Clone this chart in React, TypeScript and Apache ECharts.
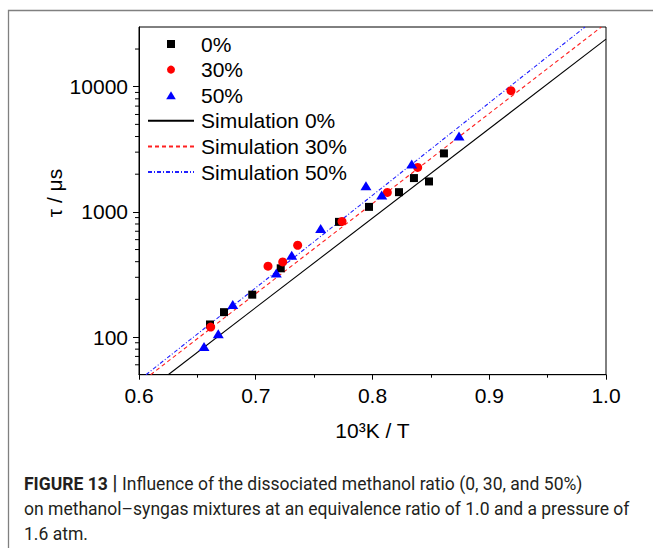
import { useEffect, useRef } from 'react';
import * as echarts from 'echarts';

// Measured ignition delay times, tau (µs) versus 1000/T (1/K)
const DATA_0: [number, number][] = [
  [0.6608, 126], [0.6728, 158], [0.697, 218], [0.7214, 354], [0.7713, 832],
  [0.797, 1096], [0.8227, 1437], [0.8355, 1862], [0.8484, 1750], [0.8612, 2932],
];
const DATA_30: [number, number][] = [
  [0.6614, 120], [0.7105, 368], [0.7231, 398], [0.7359, 541], [0.7739, 838],
  [0.8127, 1429], [0.8387, 2265], [0.9186, 9290],
];
const DATA_50: [number, number][] = [
  [0.6557, 84], [0.6679, 106], [0.6803, 182], [0.7176, 325], [0.7308, 451],
  [0.7556, 737], [0.7944, 1614], [0.8079, 1361], [0.8336, 2409], [0.8741, 4035],
];

// Simulated (Arrhenius-type) lines, endpoints where they meet the frame
const SIM_0: [number, number][] = [[0.625, 50], [1.0, 24000]];
const SIM_30: [number, number][] = [[0.61, 50], [0.996, 30000]];
const SIM_50: [number, number][] = [[0.606, 50], [0.982, 30000]];

const SERIES_NAMES = ['0%', '30%', '50%', 'Simulation 0%', 'Simulation 30%', 'Simulation 50%'];

// Minor tick values of the logarithmic tau axis
const Y_MINOR_TICKS = [
  60, 70, 80, 90,
  200, 300, 400, 500, 600, 700, 800, 900,
  2000, 3000, 4000, 5000, 6000, 7000, 8000, 9000,
  20000,
];

const X_NAME = '10³K / T';
const Y_NAME = 'τ / μs';

const CAPTION_1_BOLD = 'FIGURE 13';
const CAPTION_1 = 'Influence of the dissociated methanol ratio (0, 30, and 50%)';
const CAPTION_2 = 'on methanol–syngas mixtures at an equivalence ratio of 1.0 and a pressure of';
const CAPTION_3 = '1.6 atm.';

const FONT = 'Liberation Sans';
const CAPTION_FONT = 'Roboto';
const CAPTION_SIZE = 18.5;

// legend icons that keep their own proportions inside the wide legend slot
const ICON_SQUARE = 'path://M0,0L10,0L10,10L0,10Z';
const ICON_TRIANGLE = 'path://M6,0L12,10L0,10Z';
const HIDDEN_SYMBOL = { color: 'rgba(0,0,0,0)', borderColor: 'rgba(0,0,0,0)', borderWidth: 0 };

export default function App() {
  const ref = useRef<HTMLDivElement>(null);

  useEffect(() => {
    if (!ref.current) return;
    const chart = echarts.init(ref.current, null, { renderer: 'svg' });

    // horizontal squeeze of the caption so the second line spans its column
    let capScale = 0.87;
    try {
      const ctx = document.createElement('canvas').getContext('2d');
      if (ctx) {
        ctx.font = `${CAPTION_SIZE}px ${CAPTION_FONT}`;
        const w = ctx.measureText(CAPTION_2).width;
        if (w > 0) capScale = 606 / w;
      }
    } catch (e) {
      /* keep default */
    }

    chart.setOption({
      animation: false,
      backgroundColor: '#ffffff',
      textStyle: { fontFamily: FONT },
      grid: {
        left: 139,
        top: 27,
        width: 467,
        height: 347.7,
        show: true,
        borderColor: '#000',
        borderWidth: 1,
        backgroundColor: 'transparent',
        containLabel: false,
      },
      legend: {
        orient: 'vertical',
        left: 147,
        top: 33.5,
        padding: 0,
        itemWidth: 46,
        itemHeight: 8,
        itemGap: 4.6,
        selectedMode: false,
        symbolKeepAspect: true,
        data: [
          { name: SERIES_NAMES[0], icon: ICON_SQUARE },
          { name: SERIES_NAMES[1], icon: 'circle' },
          { name: SERIES_NAMES[2], icon: ICON_TRIANGLE },
          { name: SERIES_NAMES[3], itemStyle: HIDDEN_SYMBOL },
          { name: SERIES_NAMES[4], itemStyle: HIDDEN_SYMBOL },
          { name: SERIES_NAMES[5], itemStyle: HIDDEN_SYMBOL },
        ],
        textStyle: {
          fontFamily: FONT,
          fontSize: 21,
          lineHeight: 21,
          color: '#000',
          padding: [0, 0, 0, 2],
        },
      },
      xAxis: {
        type: 'value',
        min: 0.6,
        max: 1.0,
        interval: 0.1,
        name: X_NAME,
        nameLocation: 'middle',
        nameGap: 45,
        nameTextStyle: { fontFamily: FONT, fontSize: 21, color: '#000' },
        axisLine: { show: true, lineStyle: { color: '#000', width: 1 } },
        axisTick: { show: true, length: 5, lineStyle: { color: '#000', width: 1 } },
        minorTick: { show: true, splitNumber: 2, length: 3, lineStyle: { color: '#000', width: 1 } },
        axisLabel: {
          fontFamily: FONT,
          fontSize: 21,
          color: '#000',
          margin: 10,
          formatter: (v: number) => v.toFixed(1),
        },
        splitLine: { show: false },
      },
      yAxis: {
        type: 'log',
        logBase: 10,
        min: 50,
        max: 30000,
        axisLine: { show: true, lineStyle: { color: '#000', width: 1 } },
        axisTick: { show: true, length: 6, lineStyle: { color: '#000', width: 1 } },
        axisLabel: {
          fontFamily: FONT,
          fontSize: 21,
          color: '#000',
          margin: 11,
          showMinLabel: false,
          showMaxLabel: false,
          formatter: (v: number) => String(Math.round(v)),
        },
        splitLine: { show: false },
      },
      series: [
        {
          type: 'scatter',
          name: SERIES_NAMES[0],
          data: DATA_0,
          symbol: 'rect',
          symbolSize: 8,
          itemStyle: { color: '#000000', opacity: 1 },
          z: 4,
        },
        {
          type: 'scatter',
          name: SERIES_NAMES[1],
          data: DATA_30,
          symbol: 'circle',
          symbolSize: 9,
          itemStyle: { color: '#ff0000', opacity: 1 },
          z: 5,
        },
        {
          type: 'scatter',
          name: SERIES_NAMES[2],
          data: DATA_50,
          symbol: 'triangle',
          symbolSize: [11, 9],
          itemStyle: { color: '#0000ff', opacity: 1 },
          z: 6,
        },
        {
          type: 'line',
          name: SERIES_NAMES[3],
          data: SIM_0,
          symbol: 'none',
          color: '#000000',
          lineStyle: { color: '#000000', width: 1.1, type: 'solid' },
          clip: true,
          z: 3,
        },
        {
          type: 'line',
          name: SERIES_NAMES[4],
          data: SIM_30,
          symbol: 'none',
          color: '#ff0000',
          lineStyle: { color: '#ff2020', width: 1.1, type: [4, 3] },
          clip: true,
          z: 3,
        },
        {
          type: 'line',
          name: SERIES_NAMES[5],
          data: SIM_50,
          symbol: 'none',
          color: '#0000ff',
          lineStyle: { color: '#2020ff', width: 1.1, type: [4, 2, 1, 2] },
          clip: true,
          z: 3,
        },
        {
          // minor ticks of the log axis, drawn outward from the left axis line
          type: 'custom',
          name: 'minor ticks',
          silent: true,
          clip: false,
          data: Y_MINOR_TICKS.map((v) => [0.6, v]),
          renderItem: (_params: any, api: any) => {
            const p = api.coord([api.value(0), api.value(1)]);
            return {
              type: 'line',
              shape: { x1: p[0] - 4, y1: p[1], x2: p[0], y2: p[1] },
              style: { stroke: '#000', lineWidth: 1 },
            };
          },
          z: 2,
        },
      ],
      graphic: [
        {
          type: 'rect',
          silent: true,
          z: -10,
          shape: { x: 8.5, y: 10.5, width: 700, height: 600 },
          style: { fill: 'none', stroke: '#808080', lineWidth: 1.3 },
        },
        {
          // y-axis title
          type: 'text',
          silent: true,
          x: 54,
          y: 193,
          rotation: Math.PI / 2,
          style: {
            text: Y_NAME,
            fontFamily: FONT,
            fontSize: 21,
            fill: '#000',
            align: 'center',
            verticalAlign: 'middle',
          },
        },
        {
          type: 'text',
          silent: true,
          x: 24,
          y: 483,
          scaleX: capScale,
          style: {
            text: `{b|${CAPTION_1_BOLD}}{bar| | }${CAPTION_1}`,
            fontFamily: CAPTION_FONT,
            fontSize: CAPTION_SIZE,
            fill: '#231f20',
            verticalAlign: 'middle',
            rich: {
              b: { fontFamily: CAPTION_FONT, fontSize: CAPTION_SIZE, fontWeight: 'bold', fill: '#231f20' },
              bar: { fontFamily: CAPTION_FONT, fontSize: 20, fontWeight: 'bold', fill: '#231f20' },
            },
          },
        },
        {
          type: 'text',
          silent: true,
          x: 24,
          y: 508,
          scaleX: capScale,
          style: {
            text: CAPTION_2,
            fontFamily: CAPTION_FONT,
            fontSize: CAPTION_SIZE,
            fill: '#231f20',
            verticalAlign: 'middle',
          },
        },
        {
          type: 'text',
          silent: true,
          x: 24,
          y: 533,
          scaleX: capScale,
          style: {
            text: CAPTION_3,
            fontFamily: CAPTION_FONT,
            fontSize: CAPTION_SIZE,
            fill: '#231f20',
            verticalAlign: 'middle',
          },
        },
      ],
    });

    return () => chart.dispose();
  }, []);

  return (
    <div
      ref={ref}
      style={{ position: 'fixed', left: 0, top: 0, width: 653, height: 548, background: '#fff' }}
    />
  );
}
